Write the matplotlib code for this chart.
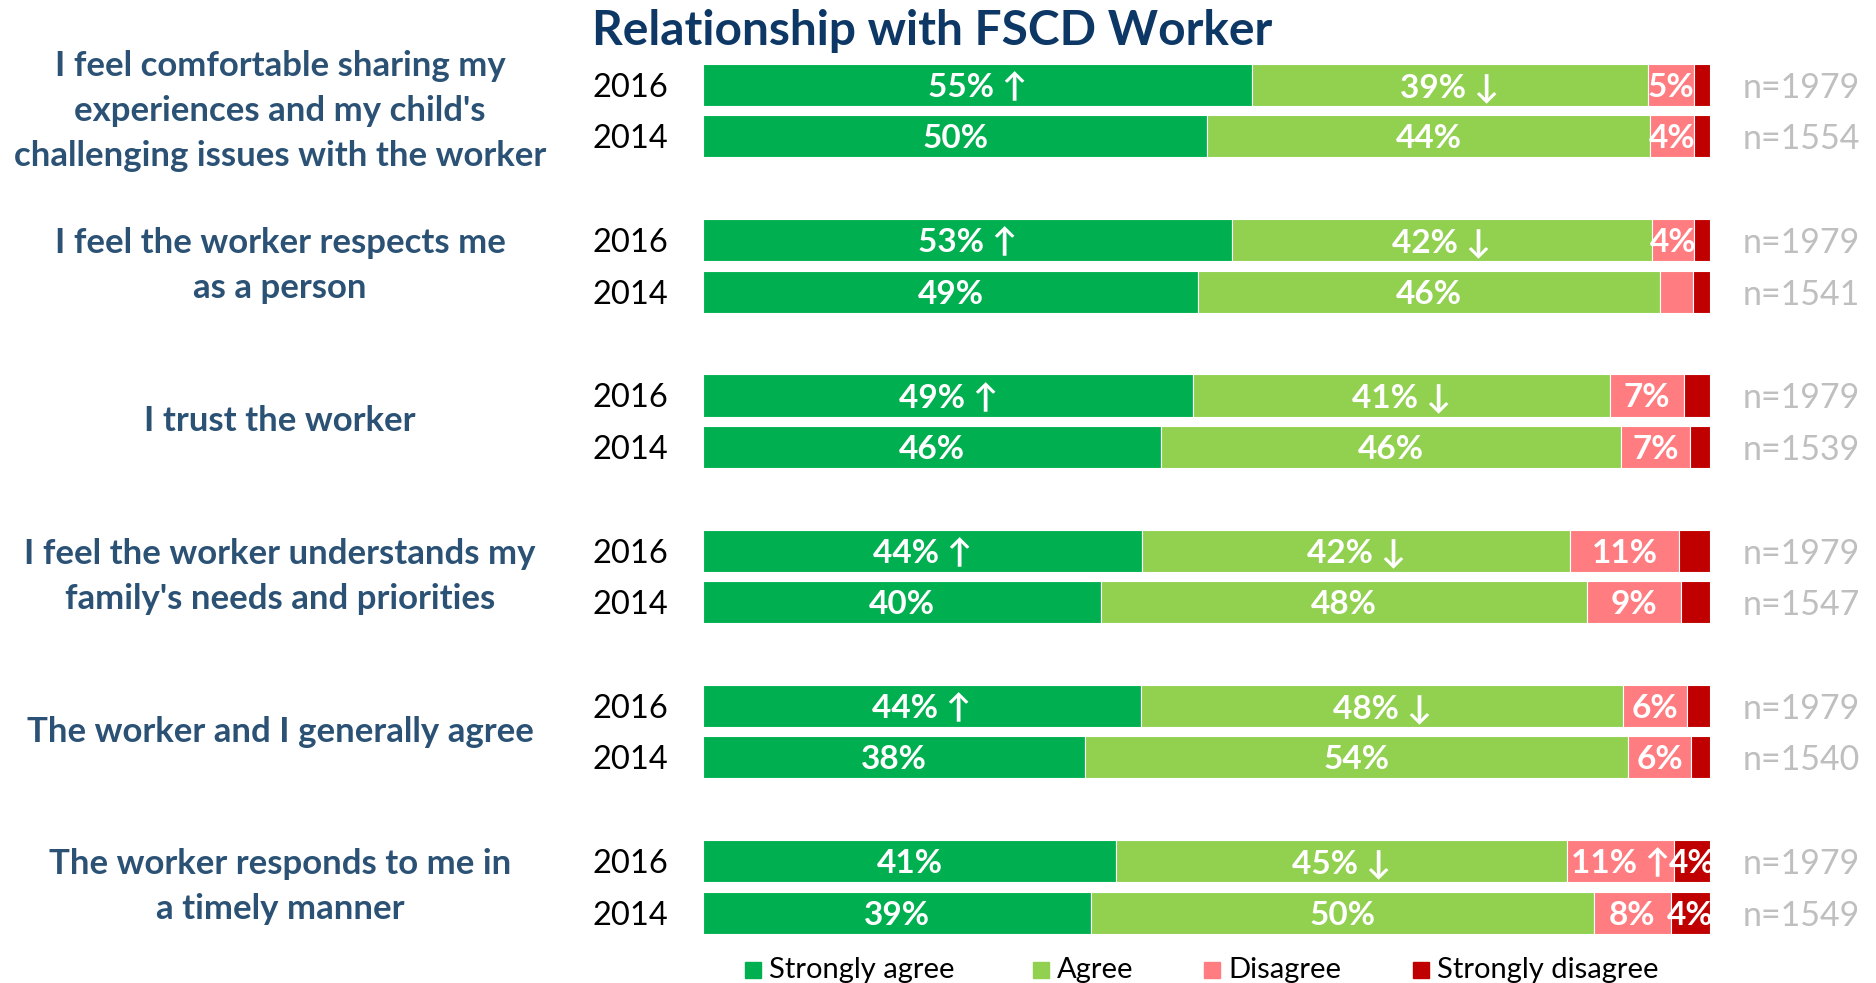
import numpy as np
import matplotlib
matplotlib.use("Agg")
import matplotlib.pyplot as plt
from matplotlib.patches import Rectangle

plt.rcParams["font.family"] = ["Lato", "DejaVu Sans"]

questions = ["I feel comfortable sharing my\nexperiences and my child's\nchallenging issues with the worker",
             "I feel the worker respects me\nas a person",
             "I trust the worker",
             "I feel the worker understands my\nfamily's needs and priorities",
             "The worker and I generally agree",
             "The worker responds to me in\na timely manner"]
years = ["2016", "2014"]
cats = ["Strongly agree", "Agree", "Disagree", "Strongly disagree"]

# shares (%) per question: Strongly agree, Agree, Disagree, Strongly disagree
vals_2016 = [[54.5, 39.3, 4.6, 1.6],
             [52.5, 41.7, 4.2, 1.6],
             [48.7, 41.4, 7.3, 2.6],
             [43.6, 42.5, 10.8, 3.1],
             [43.5, 47.9, 6.3, 2.3],
             [41.0, 44.8, 10.6, 3.6]]
vals_2014 = [[50.1, 43.9, 4.4, 1.6],
             [49.2, 45.8, 3.3, 1.7],
             [45.5, 45.7, 6.8, 2.0],
             [39.5, 48.3, 9.3, 2.9],
             [37.9, 54.0, 6.2, 1.9],
             [38.5, 50.0, 7.6, 3.9]]
labels_2016 = [["55% ↑", "39% ↓", "5%", ""],
               ["53% ↑", "42% ↓", "4%", ""],
               ["49% ↑", "41% ↓", "7%", ""],
               ["44% ↑", "42% ↓", "11%", ""],
               ["44% ↑", "48% ↓", "6%", ""],
               ["41%", "45% ↓", "11% ↑", "4%"]]
labels_2014 = [["50%", "44%", "4%", ""],
               ["49%", "46%", "", ""],
               ["46%", "46%", "7%", ""],
               ["40%", "48%", "9%", ""],
               ["38%", "54%", "6%", ""],
               ["39%", "50%", "8%", "4%"]]
n_2016 = [1979, 1979, 1979, 1979, 1979, 1979]
n_2014 = [1554, 1541, 1539, 1547, 1540, 1549]

colors = ["#00b050", "#92d050", "#ff7c80", "#c00000"]
GAP = 3.02
BH = 0.82

fig = plt.figure(figsize=(18.76, 9.83), dpi=100)
ax = fig.add_axes([0.3747, 0, 0.5368, 1])
ax.set_xlim(0, 100)
ax.set_ylim(17.47, -1.654)
ax.axis("off")

for g, q in enumerate(questions):
    for k, (yr, vals, labs, n) in enumerate([("2016", vals_2016[g], labels_2016[g], n_2016[g]),
                                             ("2014", vals_2014[g], labels_2014[g], n_2014[g])]):
        y = g * GAP + k
        left = 0
        for v, lab, c in zip(vals, labs, colors):
            ax.barh(y, v, left=left, height=BH, color=c, edgecolor="white", lw=0.8)
            if lab:
                ax.text(left + v / 2, y, lab, ha="center", va="center_baseline", color="white",
                        fontsize=24, weight="bold")
            left += v
        ax.text(-3.4, y, yr, ha="right", va="center_baseline", fontsize=23.5, color="black")
        ax.text(103.2, y, f"n={n}", ha="left", va="center_baseline", fontsize=24.5, color="#bfbfbf")
    ax.text(-42.0, g * GAP + 0.5, q, ha="center", va="center", fontsize=25, weight="bold",
            color="#2b5275", linespacing=1.5, clip_on=False)

ax.text(-11.0, -1.05, "Relationship with FSCD Worker", ha="left", va="center", fontsize=34.5,
        weight="bold", color="#0d3866")

# legend
leg_x = [4.17, 32.8, 49.8, 70.5]
for x, c, lab in zip(leg_x, colors, cats):
    ax.add_patch(Rectangle((x, 17.22 - 0.155), 1.59, 0.31, color=c, clip_on=False))
    ax.text(x + 2.38, 17.22, lab, ha="left", va="center", fontsize=21, color="black")

fig.savefig("out.png", dpi=100)
